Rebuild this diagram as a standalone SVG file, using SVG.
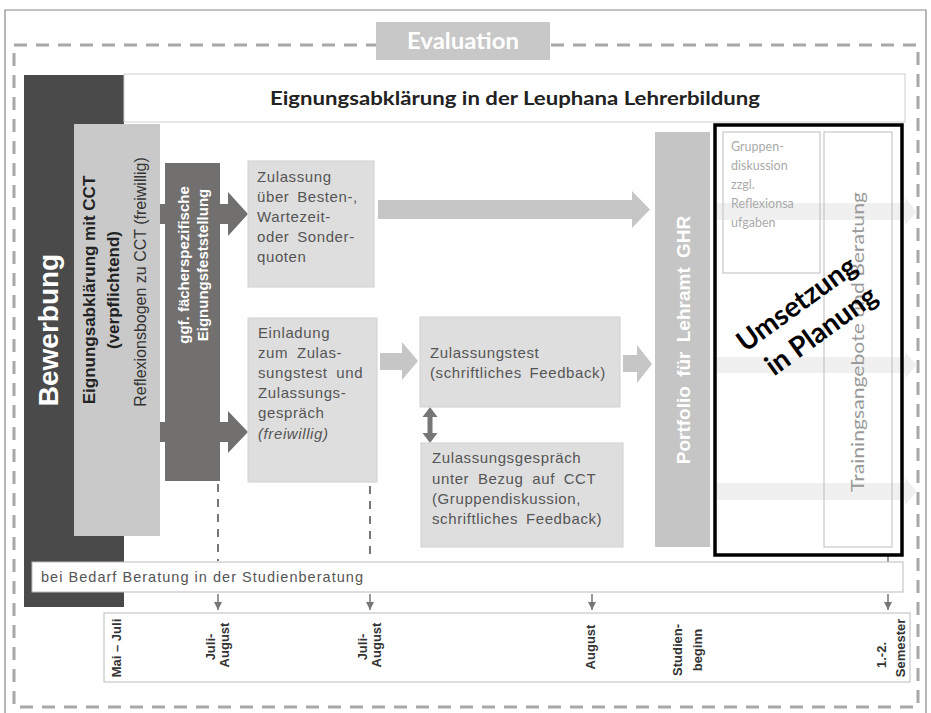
<svg xmlns="http://www.w3.org/2000/svg" width="931" height="713" viewBox="0 0 931 713">
<defs>
<style>
.sans{font-family:"Liberation Sans",Arial,sans-serif}
.cal{font-family:Lato,"Open Sans",sans-serif}
.box{fill:#dedede;stroke:#d0d0d0;stroke-width:1}
.btxt{font-family:"Liberation Sans",Arial,sans-serif;font-size:15px;letter-spacing:0.6px;fill:#555}
.tl{font-family:"Liberation Sans",Arial,sans-serif;font-size:13px;font-weight:bold;fill:#333}
.rot{text-anchor:middle;dominant-baseline:central}
.dash{stroke:#a8a8a8;stroke-width:3;stroke-dasharray:13 9;fill:none}
.vdash{stroke:#777;stroke-width:2;stroke-dasharray:8 7;fill:none}
.tick{stroke:#777;stroke-width:1.5;fill:none}
.faint{fill:#f0f0f0}
.lg{fill:#c6c6c6}
.dg{fill:#726f6f}
</style>
<marker id="ah" viewBox="0 0 10 10" refX="10" refY="5" markerWidth="8" markerHeight="8" markerUnits="userSpaceOnUse" orient="auto"><path d="M0,0 L10,5 L0,10 z" fill="#777"/></marker>
</defs>
<rect width="931" height="713" fill="#fff"/>
<path d="M5,713 V10 H926 V713" fill="none" stroke="#8a8a8a" stroke-width="1.2"/>

<g id="connectors">
<path class="dg" d="M160,204 H228 V192 L248,214 L228,236 V224 H160 Z"/>
<path class="dg" d="M160,422 H228 V411 L248,432 L228,453 V442 H160 Z"/>
<path class="lg" d="M378,200 H632 V191 L650,209.5 L632,228 V219 H378 Z"/>
<path class="lg" d="M380,353 H402 V342 L418,361 L402,380 V370 H380 Z"/>
<path class="lg" d="M623,355 H637 V345 L652,364 L637,383 V372 H623 Z"/>
<path fill="#777" d="M430,407 L437.5,417 H432.5 V433 H437.5 L430,443 L422.5,433 H427.5 V417 H422.5 Z"/>
<path class="vdash" d="M218,484 V561"/>
<path class="vdash" d="M370,486 V561"/>
<path class="tick" d="M888,555 V562"/>
<path class="tick" d="M218,594 V610" marker-end="url(#ah)"/>
<path class="tick" d="M370,594 V610" marker-end="url(#ah)"/>
<path class="tick" d="M592,594 V610" marker-end="url(#ah)"/>
<path class="tick" d="M888,594 V610" marker-end="url(#ah)"/>
</g>

<g id="evaluation">
<path class="dash" d="M14,45 H376 M551,45 H918 V707 H14 V45"/>
<rect x="376" y="22" width="174" height="38" fill="#c8c8c8"/>
<text x="463" y="49" class="cal" font-size="22" font-weight="bold" fill="#fff" text-anchor="middle" textLength="112" lengthAdjust="spacingAndGlyphs">Evaluation</text>
</g>

<g id="bewerbung">
<rect x="24" y="75" width="100" height="532" fill="#4a4a4a"/>
<text class="sans rot" transform="translate(48,330) rotate(-90)" font-size="28" font-weight="bold" fill="#fff">Bewerbung</text>
</g>

<g id="title">
<rect x="124" y="74" width="781" height="48" fill="#fff" stroke="#cfcfcf"/>
<text x="515" y="105" class="cal" font-size="18" font-weight="bold" fill="#222" text-anchor="middle" textLength="490" lengthAdjust="spacingAndGlyphs">Eignungsabklärung in der Leuphana Lehrerbildung</text>
</g>

<g id="eignung-cct">
<rect x="74" y="124" width="86" height="412" fill="#c9c9c9"/>
<text class="sans rot" transform="translate(89,290) rotate(-90)" font-size="17" font-weight="bold" fill="#222">Eignungsabklärung mit CCT</text>
<text class="sans rot" transform="translate(113,290) rotate(-90)" font-size="17" font-weight="bold" fill="#222">(verpflichtend)</text>
<text class="sans rot" transform="translate(140,282) rotate(-90)" font-size="16" fill="#333">Reflexionsbogen zu CCT (freiwillig)</text>
</g>

<g id="faecher">
<rect class="dg" x="165" y="163" width="55" height="318"/>
<text class="sans rot" transform="translate(183,265) rotate(-90)" font-size="15" font-weight="bold" fill="#fff">ggf. fächerspezifische</text>
<text class="sans rot" transform="translate(202,265) rotate(-90)" font-size="15" font-weight="bold" fill="#fff">Eignungsfeststellung</text>
</g>

<g id="zulassung-quoten">
<rect class="box" x="248" y="161" width="126" height="126"/>
<text class="btxt"><tspan x="257" y="182">Zulassung</tspan><tspan x="257" y="202" word-spacing="3">über Besten-,</tspan><tspan x="257" y="222">Wartezeit-</tspan><tspan x="257" y="242" word-spacing="3">oder Sonder-</tspan><tspan x="257" y="262">quoten</tspan></text>
</g>

<g id="einladung">
<rect class="box" x="248" y="318" width="129" height="164"/>
<text class="btxt"><tspan x="258" y="338">Einladung</tspan><tspan x="258" y="358" word-spacing="4">zum Zulas-</tspan><tspan x="258" y="378" word-spacing="4">sungstest und</tspan><tspan x="258" y="398">Zulassungs-</tspan><tspan x="258" y="418">gespräch</tspan><tspan x="258" y="439" font-style="italic">(freiwillig)</tspan></text>
</g>

<g id="zulassungstest">
<rect class="box" x="420" y="317" width="200" height="90"/>
<text class="btxt"><tspan x="430" y="358">Zulassungstest</tspan><tspan x="430" y="378" word-spacing="3">(schriftliches Feedback)</tspan></text>
</g>

<g id="zulassungsgespraech">
<rect class="box" x="421" y="443" width="202" height="104"/>
<text class="btxt"><tspan x="432" y="463">Zulassungsgespräch</tspan><tspan x="432" y="484" word-spacing="4">unter Bezug auf CCT</tspan><tspan x="432" y="504">(Gruppendiskussion,</tspan><tspan x="432" y="524" word-spacing="3">schriftliches Feedback)</tspan></text>
</g>

<g id="portfolio">
<rect x="655" y="132" width="55" height="415" fill="#c5c5c5"/>
<text class="sans rot" transform="translate(683,340) rotate(-90)" font-size="19" font-weight="bold" fill="#fff" word-spacing="4">Portfolio für Lehramt GHR</text>
</g>

<g id="umsetzung">
<path class="faint" d="M714,203 H905 V198 L917,211.5 L905,225 V220 H714 Z"/>
<path class="faint" d="M714,357 H905 V352 L917,365 L905,378 V373 H714 Z"/>
<path class="faint" d="M714,483 H905 V478 L917,491.5 L905,505 V500 H714 Z"/>
<g id="gruppendiskussion">
<rect x="723" y="132" width="97" height="141" fill="none" stroke="#bdbdbd"/>
<text class="cal" font-size="12.5" fill="#aaa"><tspan x="731" y="151">Gruppen-</tspan><tspan x="731" y="170">diskussion</tspan><tspan x="731" y="189">zzgl.</tspan><tspan x="731" y="208">Reflexionsa</tspan><tspan x="731" y="227">ufgaben</tspan></text>
</g>
<g id="training">
<rect x="824" y="132" width="68" height="415" fill="none" stroke="#bdbdbd"/>
<text class="cal rot" transform="translate(857,342) rotate(-90)" font-size="17" fill="#999" textLength="300" lengthAdjust="spacingAndGlyphs">Trainingsangebote und Beratung</text>
</g>
<rect x="715" y="125" width="187" height="430" fill="none" stroke="#000" stroke-width="3.5"/>
<g transform="translate(808,316) rotate(-36)">
<text class="cal rot" x="-2" y="-18" font-size="28" font-weight="bold" fill="#000">Umsetzung</text>
<text class="cal rot" x="2" y="18" font-size="28" font-weight="bold" fill="#000">in Planung</text>
</g>
</g>

<g id="beratung">
<rect x="32" y="562" width="871" height="30" fill="#fff" stroke="#bbb"/>
<text x="41" y="582" class="sans" font-size="14.5" fill="#555" textLength="322" lengthAdjust="spacing">bei Bedarf Beratung in der Studienberatung</text>
</g>

<g id="timeline">
<rect x="104" y="613" width="806" height="69" fill="#fff" stroke="#bbb"/>
<text class="tl rot" transform="translate(116,648) rotate(-90)">Mai – Juli</text>
<text class="tl rot" transform="translate(210,647) rotate(-90)">Juli-</text>
<text class="tl rot" transform="translate(224,645) rotate(-90)">August</text>
<text class="tl rot" transform="translate(362,647) rotate(-90)">Juli-</text>
<text class="tl rot" transform="translate(376,645) rotate(-90)">August</text>
<text class="tl rot" transform="translate(590,647) rotate(-90)">August</text>
<text class="tl rot" transform="translate(677,650) rotate(-90)">Studien-</text>
<text class="tl rot" transform="translate(697,650) rotate(-90)">beginn</text>
<text class="tl rot" transform="translate(881,655) rotate(-90)">1.-2.</text>
<text class="tl rot" transform="translate(900,648) rotate(-90)">Semester</text>
</g>
</svg>
